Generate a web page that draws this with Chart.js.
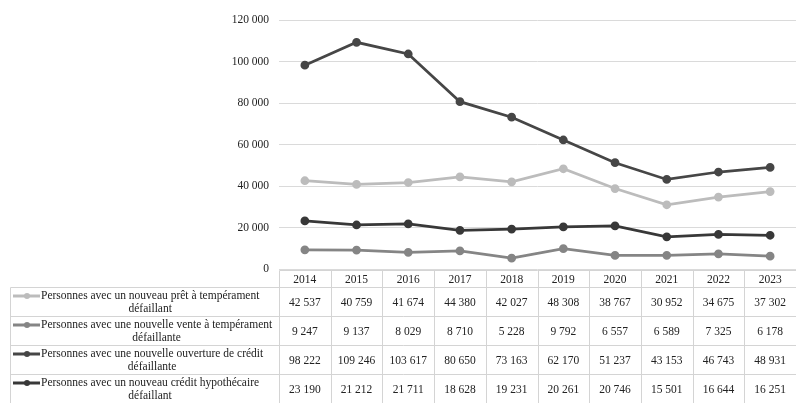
<!DOCTYPE html>
<html>
<head>
<meta charset="utf-8">
<script src="https://cdn.jsdelivr.net/npm/chart.js@4"></script>
<style>
  html, body { margin: 0; padding: 0; background: #ffffff; }
  #wrap { width: 796px; height: 403px; }
</style>
</head>
<body>
<div id="wrap"><canvas id="c" width="796" height="403"></canvas></div>
<script>
// Years (categories) shown both on the x axis and as the table header
const years = ['2014', '2015', '2016', '2017', '2018', '2019', '2020', '2021', '2022', '2023'];

// Number of persons with a defaulting credit, per credit type
const pretTemperament   = [42537, 40759, 41674, 44380, 42027, 48308, 38767, 30952, 34675, 37302];
const venteTemperament  = [9247, 9137, 8029, 8710, 5228, 9792, 6557, 6589, 7325, 6178];
const ouvertureCredit   = [98222, 109246, 103617, 80650, 73163, 62170, 51237, 43153, 46743, 48931];
const creditHypothecaire = [23190, 21212, 21711, 18628, 19231, 20261, 20746, 15501, 16644, 16251];

// Series names, split over two lines as in the data table
const labelPret  = ['Personnes avec un nouveau prêt à tempérament', 'défaillant'];
const labelVente = ['Personnes avec une nouvelle vente à tempérament', 'défaillante'];
const labelOuv   = ['Personnes avec une nouvelle ouverture de crédit', 'défaillante'];
const labelHyp   = ['Personnes avec un nouveau crédit hypothécaire', 'défaillant'];

// Y axis range
const yMax = 120000;
const yStep = 20000;

const FONT = '"Liberation Serif", "Times New Roman", serif';

function fmt(n) {
  return String(Math.round(n)).replace(/\B(?=(\d{3})+(?!\d))/g, ' ');
}

const series = [
  { label: labelPret,  data: pretTemperament,    color: '#bcbcbc' },
  { label: labelVente, data: venteTemperament,   color: '#858585' },
  { label: labelOuv,   data: ouvertureCredit,    color: '#464646' },
  { label: labelHyp,   data: creditHypothecaire, color: '#383838' }
];

// Draws the legend-keyed data table under the plot
const dataTable = {
  id: 'dataTable',
  afterDraw(chart) {
    const ctx = chart.ctx;
    const xs = chart.scales.x;
    const n = years.length;
    const colW = (xs.right - xs.left) / n;
    const x0 = xs.left;
    const xEnd = xs.right;
    const legendLeft = 10.5;
    const rowsY = [270.5, 287.5, 316.5, 345.5, 374.5, 404];

    ctx.save();
    ctx.strokeStyle = '#d4d4d4';
    ctx.lineWidth = 1;
    ctx.beginPath();
    // header row top
    ctx.moveTo(Math.round(x0) + 0.5, rowsY[0]); ctx.lineTo(xEnd, rowsY[0]);
    // row separators
    for (let i = 1; i < rowsY.length - 1; i++) {
      ctx.moveTo(legendLeft, rowsY[i]); ctx.lineTo(xEnd, rowsY[i]);
    }
    // legend column left border
    ctx.moveTo(legendLeft, rowsY[1]); ctx.lineTo(legendLeft, rowsY[5]);
    // column borders
    for (let k = 0; k <= n; k++) {
      const x = Math.round(x0 + k * colW) + 0.5;
      ctx.moveTo(x, rowsY[0]); ctx.lineTo(x, rowsY[5]);
    }
    ctx.stroke();

    ctx.fillStyle = '#222';
    ctx.font = '11.5px ' + FONT;
    ctx.textBaseline = 'middle';
    ctx.textAlign = 'center';
    // header
    years.forEach((y, k) => {
      ctx.fillText(y, x0 + (k + 0.5) * colW, (rowsY[0] + rowsY[1]) / 2 + 1);
    });
    // rows
    series.forEach((s, r) => {
      const top = rowsY[r + 1];
      const mid = top + 15;
      s.data.forEach((v, k) => {
        ctx.fillText(fmt(v), x0 + (k + 0.5) * colW, mid);
      });
      // legend key
      const ly = top + 8.5;
      ctx.strokeStyle = s.color;
      ctx.lineWidth = 3;
      ctx.beginPath();
      ctx.moveTo(13, ly); ctx.lineTo(40, ly);
      ctx.stroke();
      ctx.fillStyle = s.color;
      ctx.beginPath();
      ctx.arc(27, ly, 3, 0, Math.PI * 2);
      ctx.fill();
      // legend text
      ctx.fillStyle = '#222';
      ctx.textAlign = 'left';
      const w = ctx.measureText(s.label[0]).width;
      ctx.fillText(s.label[0], 41, ly);
      ctx.textAlign = 'center';
      ctx.fillText(s.label[1], 41 + w / 2, ly + 13);
    });
    ctx.restore();
  }
};

new Chart(document.getElementById('c'), {
  type: 'line',
  data: {
    labels: years,
    datasets: series.map(s => ({
      label: s.label.join(' '),
      data: s.data,
      borderColor: s.color,
      backgroundColor: s.color,
      borderWidth: 2.75,
      pointRadius: 3,
      pointHoverRadius: 3,
      tension: 0,
      fill: false
    }))
  },
  options: {
    responsive: false,
    animation: false,
    devicePixelRatio: 1,
    layout: { autoPadding: false, padding: { top: 20, bottom: 134, left: 0, right: 0 } },
    plugins: {
      legend: { display: false },
      tooltip: { enabled: false }
    },
    scales: {
      x: {
        type: 'category',
        display: false,
        offset: true
      },
      y: {
        min: 0,
        max: yMax,
        afterFit(scale) { scale.width = 279; },
        border: { display: false },
        grid: { color: '#dadada', lineWidth: 1, drawTicks: false },
        ticks: {
          stepSize: yStep,
          padding: 10,
          color: '#222',
          font: { family: FONT, size: 11.5 },
          callback: v => fmt(v)
        }
      }
    }
  },
  plugins: [dataTable]
});
</script>
</body>
</html>
